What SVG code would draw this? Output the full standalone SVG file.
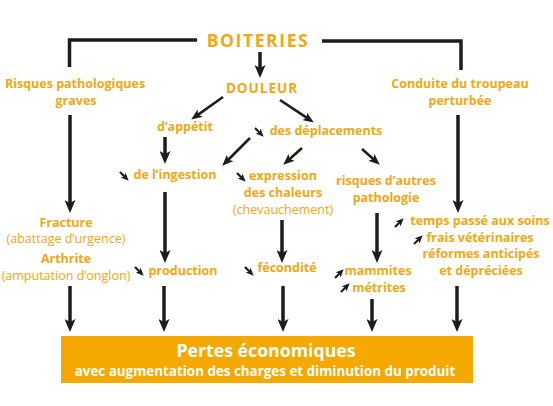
<svg xmlns="http://www.w3.org/2000/svg" width="553" height="406" viewBox="0 0 553 406">
<style>
.t{font-family:"Open Sans","Liberation Sans",sans-serif;font-weight:700;font-size:12.5px;fill:#F3A712;text-anchor:middle}
.l{font-weight:400}
.ln{fill:none;stroke:#1d1d1b;stroke-linecap:butt}
.big{stroke-width:3.5;marker-end:url(#hb)}
.mid{stroke-width:2.6;marker-end:url(#hm)}
.sm{stroke-width:2.2;marker-end:url(#hs)}
</style>
<defs>
<marker id="hb" markerUnits="userSpaceOnUse" markerWidth="13" markerHeight="11" refX="6" refY="5.5" orient="auto" viewBox="0 0 13 11"><path d="M0,0 L13,5.5 L0,11 L3,5.5 Z" fill="#1d1d1b"/></marker>
<marker id="hm" markerUnits="userSpaceOnUse" markerWidth="11" markerHeight="9" refX="5" refY="4.5" orient="auto" viewBox="0 0 11 9"><path d="M0,0 L11,4.5 L0,9 L2.5,4.5 Z" fill="#1d1d1b"/></marker>
<marker id="hs" markerUnits="userSpaceOnUse" markerWidth="8" markerHeight="7" refX="3.5" refY="3.5" orient="auto" viewBox="0 0 8 7"><path d="M0,0 L8,3.5 L0,7 L2,3.5 Z" fill="#1d1d1b"/></marker>
</defs>
<rect width="553" height="406" fill="#ffffff"/>
<g id="connectors">
<path class="ln" d="M197,40 H69.5 V67" stroke-width="3.5"/>
<path class="ln" d="M322,41 H461 V70" stroke-width="3.5"/>
<line class="ln big" x1="260" y1="52" x2="260" y2="71"/>
<line class="ln big" x1="70" y1="115" x2="70" y2="206"/>
<line class="ln big" x1="458" y1="115" x2="458" y2="206"/>
<line class="ln big" x1="165" y1="137" x2="165" y2="157"/>
<line class="ln big" x1="165" y1="192" x2="165" y2="256"/>
<line class="ln big" x1="282" y1="220" x2="282" y2="256"/>
<line class="ln big" x1="377" y1="213" x2="377" y2="256"/>
<line class="ln big" x1="70" y1="286" x2="70" y2="325"/>
<line class="ln big" x1="164" y1="286" x2="164" y2="325"/>
<line class="ln big" x1="283" y1="286" x2="283" y2="325"/>
<line class="ln big" x1="372" y1="299" x2="372" y2="325"/>
<line class="ln big" x1="457" y1="286" x2="457" y2="325"/>
<line class="ln mid" x1="223" y1="97" x2="196.1" y2="116.1"/>
<line class="ln mid" x1="280" y1="100" x2="308.8" y2="119.2"/>
<line class="ln mid" x1="250" y1="138" x2="226.5" y2="161.5"/>
<line class="ln mid" x1="302" y1="148" x2="287.7" y2="160.7"/>
<line class="ln mid" x1="362" y1="149" x2="375.3" y2="160.7"/>
<line class="ln sm" x1="255" y1="128" x2="260.5" y2="133.5"/>
<line class="ln sm" x1="120" y1="172" x2="125.5" y2="177.5"/>
<line class="ln sm" x1="237" y1="173" x2="242.5" y2="178.5"/>
<line class="ln sm" x1="135" y1="267" x2="140.5" y2="272.5"/>
<line class="ln sm" x1="245" y1="267" x2="250.5" y2="272.5"/>
<line class="ln sm" x1="395" y1="227" x2="400.5" y2="221.5"/>
<line class="ln sm" x1="414" y1="244" x2="419.5" y2="238.5"/>
<line class="ln sm" x1="335" y1="278" x2="340.5" y2="272.5"/>
<line class="ln sm" x1="341" y1="292" x2="346.5" y2="286.5"/>
</g>
<g id="boiteries"><text class="t" x="258" y="46.5" style="font-size:17.5px;letter-spacing:1.6px">BOITERIES</text></g>
<g id="douleur"><text class="t" x="262" y="93" style="font-size:13.5px;letter-spacing:1px">DOULEUR</text></g>
<g id="risques-graves"><text class="t" x="75" y="88">Risques pathologiques</text><text class="t" x="76" y="105">graves</text></g>
<g id="conduite"><text class="t" x="460" y="88">Conduite du troupeau</text><text class="t" x="460" y="105">perturbée</text></g>
<g id="appetit"><text class="t" x="185" y="131">d’appétit</text></g>
<g id="deplacements"><text class="t" x="326" y="135">des déplacements</text></g>
<g id="ingestion"><text class="t" x="175" y="179">de l’ingestion</text></g>
<g id="expression"><text class="t" x="283" y="180">expression</text><text class="t" x="283" y="197">des chaleurs</text><text class="t l" x="283" y="214">(chevauchement)</text></g>
<g id="risques-autres"><text class="t" x="386" y="185">risques d’autres</text><text class="t" x="386" y="202">pathologie</text></g>
<g id="fracture"><text class="t" x="66" y="227">Fracture</text><text class="t l" x="66" y="243">(abattage d’urgence)</text></g>
<g id="arthrite"><text class="t" x="66" y="263">Arthrite</text><text class="t l" x="66" y="280">(amputation d’onglon)</text></g>
<g id="production"><text class="t" x="183" y="275">production</text></g>
<g id="fecondite"><text class="t" x="287" y="272">fécondité</text></g>
<g id="mammites"><text class="t" x="378" y="275">mammites</text><text class="t" x="379" y="292">métrites</text></g>
<g id="couts"><text class="t" x="480" y="225">temps passé aux soins</text><text class="t" x="480" y="242">frais vétérinaires</text><text class="t" x="481" y="258">réformes anticipés</text><text class="t" x="481" y="275">et dépréciées</text></g>
<g id="pertes"><rect x="61" y="336" width="412" height="47" fill="#F5A800"/><text class="t" x="266" y="357" style="fill:#ffffff;font-size:17.7px">Pertes économiques</text><text class="t" x="265" y="375.5" style="fill:#ffffff;font-size:13.4px">avec augmentation des charges et diminution du produit</text></g>
</svg>
